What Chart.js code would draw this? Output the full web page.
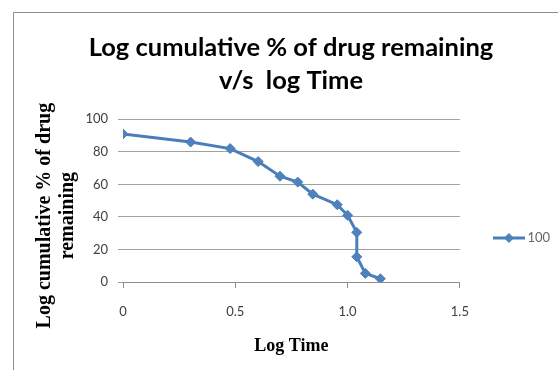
<!DOCTYPE html>
<html>
<head>
<meta charset="utf-8">
<script src="https://cdn.jsdelivr.net/npm/chart.js@4"></script>
<style>
  html, body { margin: 0; padding: 0; background: #fff; }
  #wrap { width: 558px; height: 370px; }
</style>
</head>
<body>
<div id="wrap"><canvas id="releaseChart" width="558" height="370"></canvas></div>
<script>
// log time vs log cumulative % of drug remaining
var logTime = [0, 0.301, 0.477, 0.602, 0.699, 0.778, 0.845, 0.954, 1.0, 1.041, 1.041, 1.079, 1.146];
var remaining = [91, 86, 82, 74, 65, 61.4, 54, 47.5, 41, 30.5, 15.5, 5.3, 2];
var seriesName = '100';
var xTicks = [0, 0.5, 1, 1.5];
var yTicks = [0, 20, 40, 60, 80, 100];

var blue = '#4A7EBB';
var points = logTime.map(function (t, i) { return { x: t, y: remaining[i] }; });

// small line-with-diamond swatch for the legend
function legendSwatch() {
    var c = document.createElement('canvas');
    c.width = 32; c.height = 12;
    var g = c.getContext('2d');
    g.strokeStyle = blue; g.lineWidth = 3;
    g.beginPath(); g.moveTo(0, 6); g.lineTo(32, 6); g.stroke();
    g.fillStyle = '#4F81BD';
    g.beginPath(); g.moveTo(16, 1); g.lineTo(21, 6); g.lineTo(16, 11); g.lineTo(11, 6); g.closePath(); g.fill();
    return c;
}
var swatch = legendSwatch();

// thin grey frame along the top and left edges
var framePlugin = {
    id: 'frame',
    beforeDraw: function (chart) {
        var ctx = chart.ctx;
        ctx.save();
        ctx.strokeStyle = '#8c8c8c';
        ctx.lineWidth = 1;
        ctx.beginPath();
        ctx.moveTo(13.5, 370);
        ctx.lineTo(13.5, 12.5);
        ctx.lineTo(558, 12.5);
        ctx.stroke();
        ctx.restore();
    }
};

var sp = '\u00a0';
var ctx = document.getElementById('releaseChart').getContext('2d');
var releaseChart = new Chart(ctx, {
    type: 'scatter',
    data: {
        datasets: [{
            label: seriesName,
            data: points,
            showLine: true,
            borderColor: blue,
            borderWidth: 3,
            backgroundColor: '#4F81BD',
            pointStyle: 'rectRot',
            pointRadius: 5,
            pointBorderWidth: 1,
            pointBorderColor: blue,
            pointHoverRadius: 5
        }]
    },
    options: {
        responsive: false,
        animation: false,
        layout: { padding: { left: 22, right: -2, top: 0, bottom: 0 } },
        plugins: {
            title: {
                display: true,
                text: ['Log cumulative % of drug remaining', 'v/s  log Time'],
                color: '#000',
                font: { family: 'Lato', weight: 'bold', size: 25.5, lineHeight: 1.3 },
                padding: { top: 31, bottom: 22 }
            },
            legend: {
                position: 'right',
                align: 'center',
                title: { display: true, text: '', font: { size: 10, lineHeight: 1.2 }, padding: { top: 94, bottom: 0 } },
                labels: {
                    usePointStyle: true,
                    pointStyleWidth: 24,
                    padding: 37,
                    color: '#000',
                    font: { family: 'Lato', size: 13 },
                    generateLabels: function (chart) {
                        return [{ text: seriesName, pointStyle: swatch, fillStyle: blue, strokeStyle: blue, lineWidth: 0, datasetIndex: 0 }];
                    }
                }
            },
            tooltip: { enabled: false }
        },
        scales: {
            x: {
                type: 'linear',
                min: 0,
                max: 1.5,
                afterBuildTicks: function (scale) { scale.ticks = xTicks.map(function (v) { return { value: v }; }); },
                afterFit: function (scale) { scale.height = 88; },
                grid: { drawOnChartArea: false, drawTicks: true, tickLength: 6, color: '#8c8c8c' },
                border: { display: true, color: '#8c8c8c' },
                ticks: { color: '#404040', padding: 16, font: { family: 'Lato', size: 13 } },
                title: {
                    display: true,
                    text: 'Log Time',
                    color: '#000',
                    font: { family: 'Liberation Serif', weight: 'bold', size: 18 },
                    padding: { top: 0, bottom: 13 }
                }
            },
            y: {
                min: 0,
                max: 100,
                afterBuildTicks: function (scale) { scale.ticks = yTicks.map(function (v) { return { value: v }; }); },
                afterFit: function (scale) { scale.width = 101; },
                grid: { color: '#a0a0a0', tickLength: 5 },
                border: { display: false },
                ticks: { color: '#404040', padding: 10, font: { family: 'Lato', size: 13 } },
                title: {
                    display: true,
                    text: ['Log cumulative % of drug' + sp.repeat(6), 'remaining' + sp.repeat(6)],
                    color: '#000',
                    font: { family: 'Liberation Serif', weight: 'bold', size: 20, lineHeight: 1.15 },
                    padding: { top: 11.5, bottom: 0 }
                }
            }
        }
    },
    plugins: [framePlugin]
});
</script>
</body>
</html>
